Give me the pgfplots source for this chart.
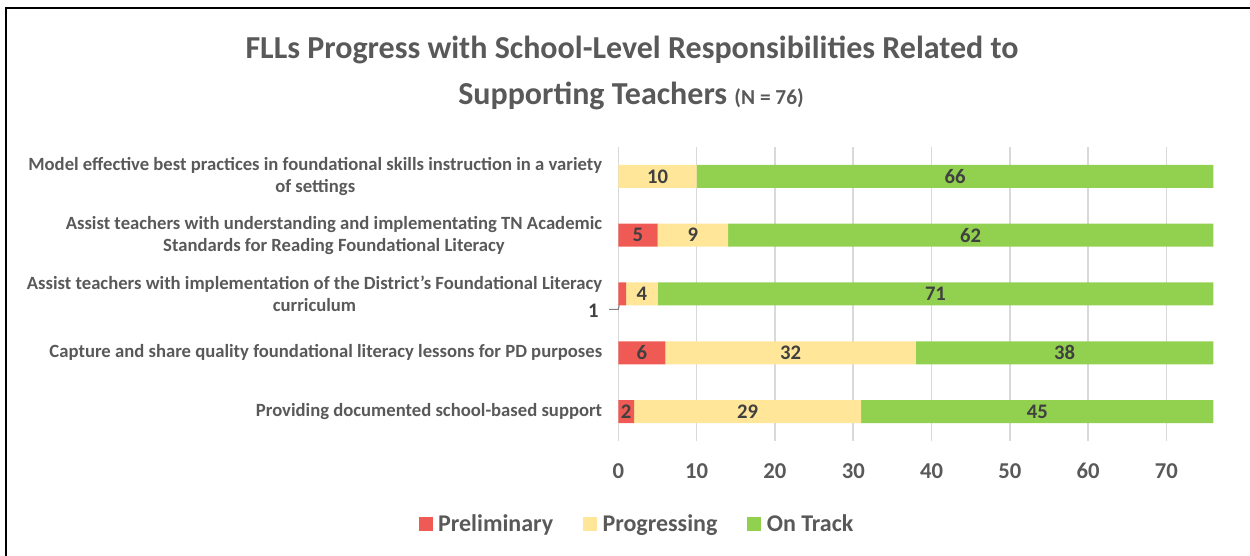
\documentclass[border=0pt]{standalone}
\usepackage{fontspec}
\setmainfont{Carlito}
\usepackage{pgfplots}
\pgfplotsset{compat=1.18}
\definecolor{prelim}{HTML}{F05A55}
\definecolor{progr}{HTML}{FFE699}
\definecolor{ontrack}{HTML}{92D050}
\definecolor{txt}{HTML}{595959}
\definecolor{lbl}{HTML}{404040}
\definecolor{gridc}{HTML}{D9D9D9}
\pgfplotsset{frameaxis/.style={
  at={(463.8pt,86.25pt)}, anchor=south west,
  scale only axis, width=446.25pt, height=220.5pt,
  xmin=0, xmax=76, ymin=-0.5, ymax=4.5, clip=false}}
\begin{document}
\begin{tikzpicture}[x=0.75pt,y=0.75pt]
\path[use as bounding box] (0,0) rectangle (1250,556);
\draw[line width=1.5pt] (6,0) -- (6,548) -- (1250,548);
\node[font=\bfseries\fontsize{24}{28}\selectfont, text=txt] at (632,506) {FLLs Progress with School-Level Responsibilities Related to};
\node[font=\bfseries\fontsize{24}{28}\selectfont, text=txt] at (631,460) {Supporting Teachers {\fontsize{16}{18}\selectfont (N = 76)}};
\begin{axis}[
  frameaxis,
  xbar stacked, bar width=17.25pt,
  xtick={0,10,...,70},
  ytick={0,1,2,3,4},
  yticklabels={
    {Providing documented school-based support},
    {Capture and share quality foundational literacy lessons for PD purposes},
    {Assist teachers with implementation of the District’s Foundational Literacy\\curriculum},
    {Assist teachers with understanding and implementating TN Academic\\Standards for Reading Foundational Literacy},
    {Model effective best practices in foundational skills instruction in a variety\\of settings}},
  yticklabel style={align=center, font=\bfseries\fontsize{14}{16.5}\selectfont, text=txt, inner xsep=0pt, xshift=-12pt},
  xticklabel style={font=\bfseries\fontsize{17}{19}\selectfont, text=txt, anchor=base, yshift=-28pt},
  /pgf/number format/assume math mode=true,
  major tick length=0pt,
  axis line style={draw=none},
  xmajorgrids, grid style={gridc, line width=1.2pt},
  legend columns=3,
  legend style={at={(0.032,-0.282)}, anchor=center, draw=none, fill=none,
    font=\bfseries\fontsize{18}{20}\selectfont, text=txt,
    /tikz/every odd column/.append style={column sep=2pt},
    /tikz/every even column/.append style={column sep=20.5pt}},
  legend image code/.code={\fill[#1] (0pt,-5.5pt) rectangle (10.5pt,5pt);},
]
\addplot[fill=prelim, draw=none] coordinates {(2,0) (6,1) (1,2) (5,3) (0,4)};
\addplot[fill=progr, draw=none] coordinates {(29,0) (32,1) (4,2) (9,3) (10,4)};
\addplot[fill=ontrack, draw=none] coordinates {(45,0) (38,1) (71,2) (62,3) (66,4)};
\legend{Preliminary, Progressing, On Track}
\draw[gray, line width=0.8pt] (axis cs:0.15,1.85) -- (axis cs:0,1.74) -- (axis cs:-1.2,1.74);
\node[font=\bfseries\fontsize{15.5}{18}\selectfont, text=lbl, anchor=east, inner sep=0pt] at (axis cs:-2.5,1.72) {1};
\end{axis}
% data labels, centred in each segment
\begin{axis}[frameaxis, hide axis,
  nodes near coords, point meta=explicit symbolic,
  every node near coord/.append style={font=\bfseries\fontsize{15.5}{18}\selectfont, text=lbl, anchor=center, inner sep=0pt}]
\addplot[draw=none, mark=none, only marks] coordinates {
  (1,0)[2] (16.5,0)[29] (53.5,0)[45]
  (3,1)[6] (22,1)[32] (57,1)[38]
  (3,2)[4] (40.5,2)[71]
  (2.5,3)[5] (9.5,3)[9] (45,3)[62]
  (5,4)[10] (43,4)[66]};
\end{axis}
\end{tikzpicture}
\end{document}
